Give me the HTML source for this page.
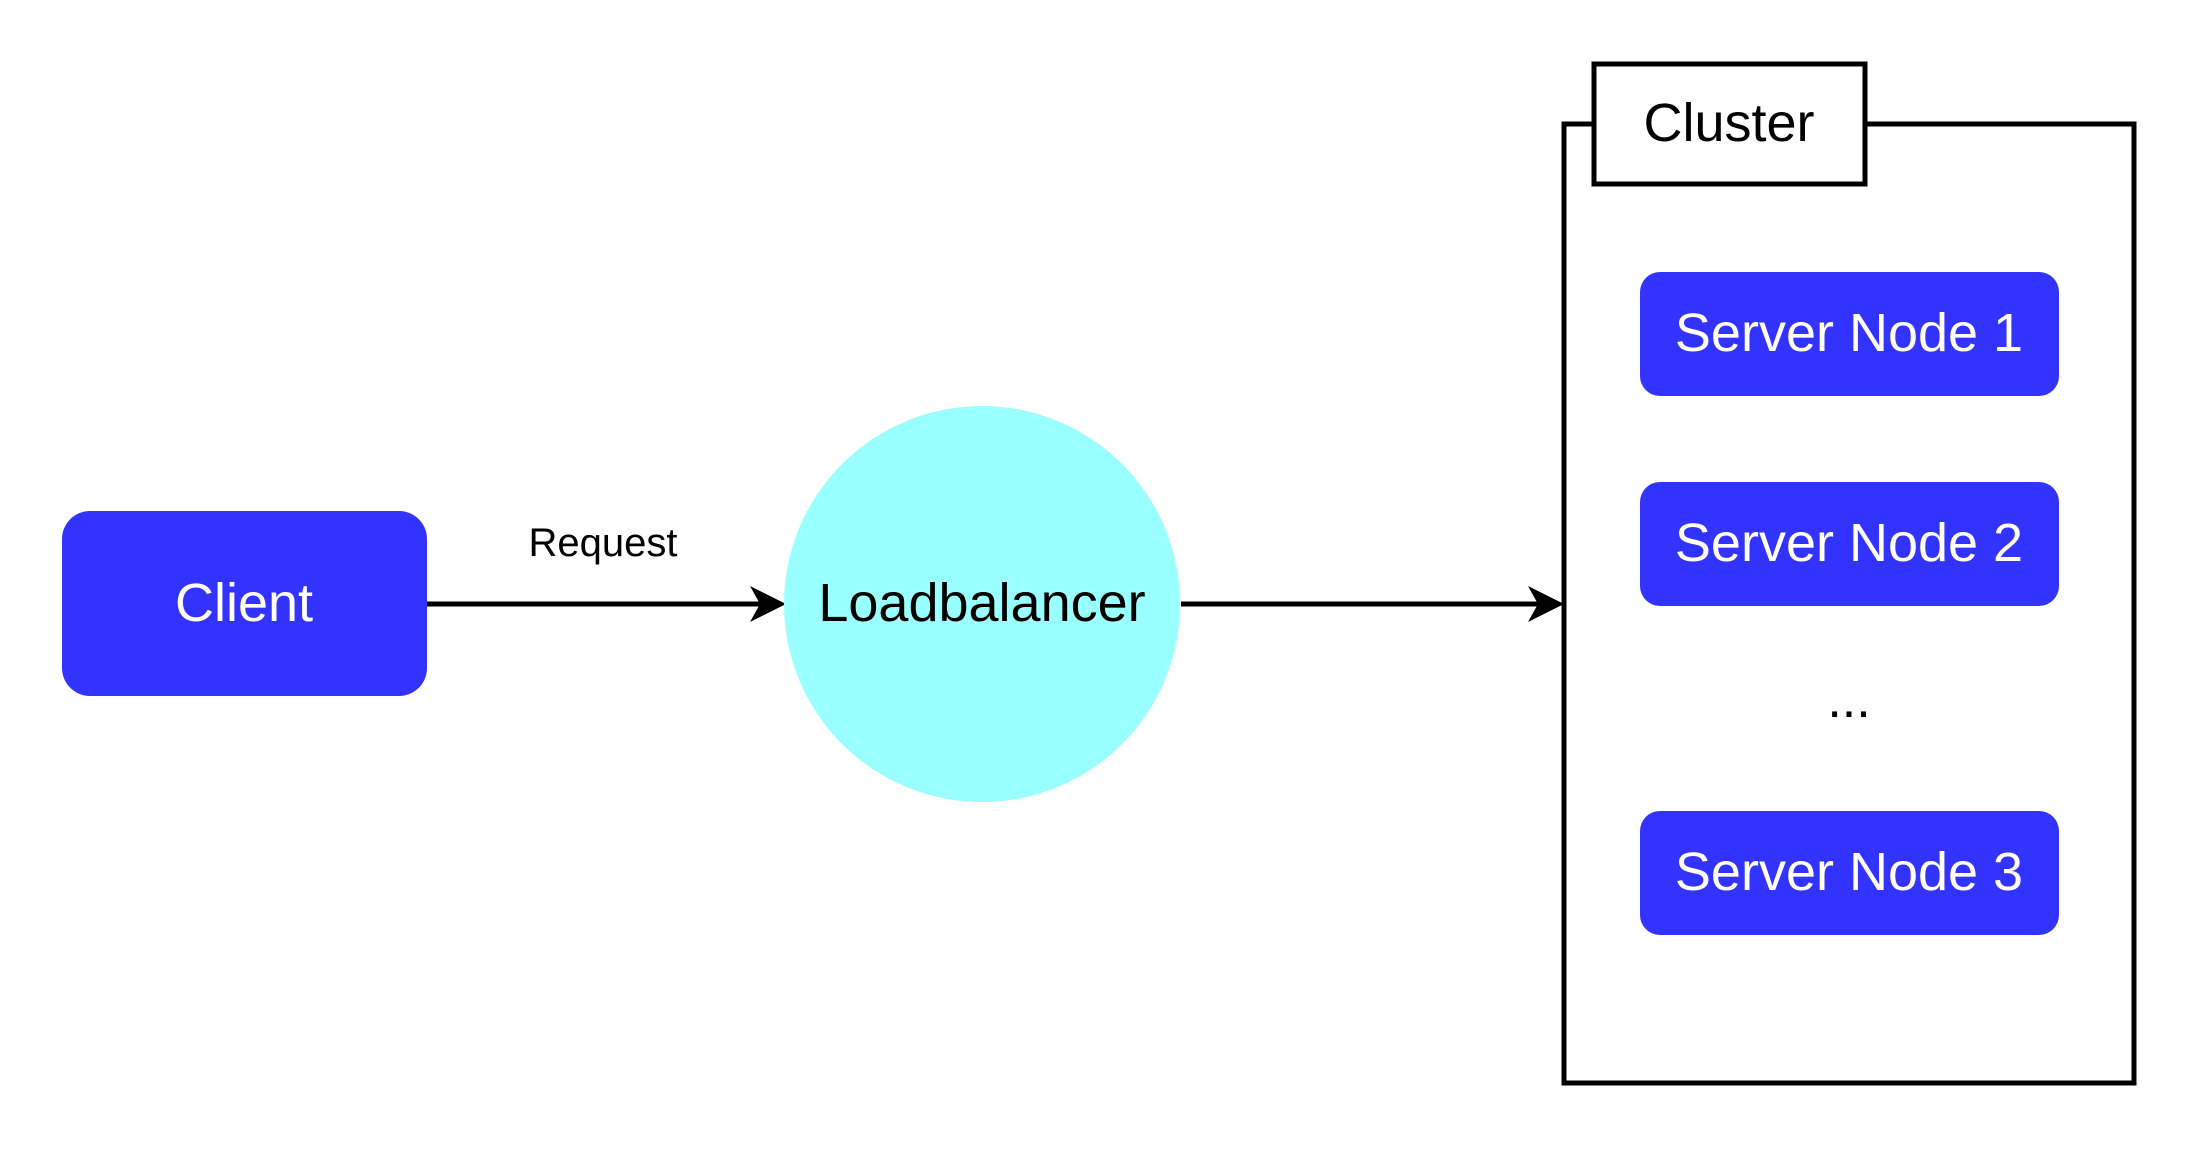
<!DOCTYPE html>
<html><head><meta charset="utf-8"><style>html,body{margin:0;padding:0;background:#fff}</style></head>
<body>
<svg width="2196" height="1146" viewBox="0 0 2196 1146" xmlns="http://www.w3.org/2000/svg" font-family="Liberation Sans, Arial, sans-serif">
<rect x="62" y="511" width="365" height="185" rx="28" fill="#3333FF"/>
<text x="244" y="603" fill="#fff" font-size="54" text-anchor="middle" dominant-baseline="central">Client</text>
<line x1="427" y1="604" x2="760" y2="604" stroke="#000" stroke-width="5"/>
<polygon points="786,604 750,586 760,604 750,622" fill="#000"/>
<text x="603" y="543" font-size="40" text-anchor="middle" dominant-baseline="central">Request</text>
<circle cx="982" cy="604" r="198" fill="#99FFFF"/>
<text x="982" y="603" font-size="54" text-anchor="middle" dominant-baseline="central">Loadbalancer</text>
<line x1="1181" y1="604" x2="1540" y2="604" stroke="#000" stroke-width="5"/>
<polygon points="1564,604 1528,586 1538,604 1528,622" fill="#000"/>
<rect x="1564" y="124" width="570" height="959" fill="none" stroke="#000" stroke-width="5"/>
<rect x="1594" y="64" width="271" height="120" fill="#fff" stroke="#000" stroke-width="5"/>
<text x="1729" y="123" font-size="54" text-anchor="middle" dominant-baseline="central">Cluster</text>
<rect x="1640" y="272" width="419" height="124" rx="20" fill="#3333FF"/>
<text x="1849" y="333" fill="#fff" font-size="54" text-anchor="middle" dominant-baseline="central">Server Node 1</text>
<rect x="1640" y="482" width="419" height="124" rx="20" fill="#3333FF"/>
<text x="1849" y="543" fill="#fff" font-size="54" text-anchor="middle" dominant-baseline="central">Server Node 2</text>
<text x="1849" y="700" font-size="52" text-anchor="middle" dominant-baseline="central">...</text>
<rect x="1640" y="811" width="419" height="124" rx="20" fill="#3333FF"/>
<text x="1849" y="872" fill="#fff" font-size="54" text-anchor="middle" dominant-baseline="central">Server Node 3</text>
</svg>
</body></html>
